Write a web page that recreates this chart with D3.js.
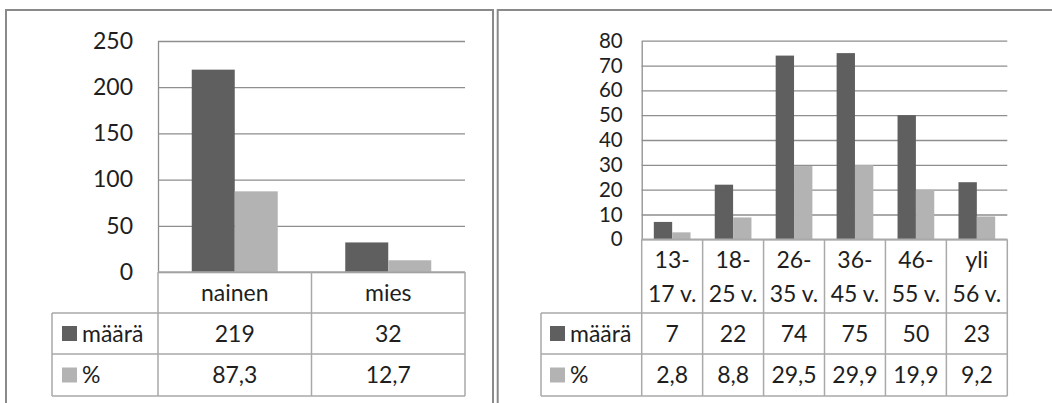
<!DOCTYPE html>
<html>
<head>
<meta charset="utf-8">
<script src="https://cdn.jsdelivr.net/npm/d3@7"></script>
<style>
  html, body { margin: 0; padding: 0; background: #fff; }
  svg { display: block; }
  text { font-family: Lato, "Open Sans", sans-serif; fill: #1e1e1e; }
</style>
</head>
<body>
<svg id="chart" width="1052" height="403"></svg>
<script>
// Series shown in both charts
const seriesNames = ["määrä", "%"];
const seriesColors = ["#5f5f5f", "#b3b3b3"];

// Gender breakdown
const genderCategories = [["nainen"], ["mies"]];
const genderCount = [219, 32];
const genderPercent = [87.3, 12.7];
const genderTicks = [0, 50, 100, 150, 200, 250];

// Age breakdown
const ageCategories = [["13-", "17 v."], ["18-", "25 v."], ["26-", "35 v."], ["36-", "45 v."], ["46-", "55 v."], ["yli", "56 v."]];
const ageCount = [7, 22, 74, 75, 50, 23];
const agePercent = [2.8, 8.8, 29.5, 29.9, 19.9, 9.2];
const ageTicks = [0, 10, 20, 30, 40, 50, 60, 70, 80];

const fi = d3.formatLocale({ decimal: ",", thousands: " ", grouping: [3], currency: ["", " €"] });
const seriesFormats = [fi.format("d"), fi.format(".1f")];

const svg = d3.select("#chart");
const FONT = 23;
const gridColor = "#8e8e8e";
const tableColor = "#a9a9a9";

function drawPanel(cfg) {
  const g = svg.append("g");
  const cats = cfg.categories.map(c => c.join(" "));
  const values = [cfg.count, cfg.percent];

  // outer frame
  g.append("rect")
    .attr("x", cfg.frame[0]).attr("y", 10)
    .attr("width", cfg.frame[1] - cfg.frame[0]).attr("height", 420)
    .attr("fill", "none").attr("stroke", "#8a8a8a").attr("stroke-width", 2);

  const x = d3.scaleBand().domain(cats).range([cfg.plotLeft, cfg.plotRight]).paddingInner(0).paddingOuter(0);
  const xs = d3.scaleBand().domain(seriesNames).range([0, x.bandwidth()]).paddingInner(0).paddingOuter(cfg.groupPad);
  const y = d3.scaleLinear().domain([0, cfg.ticks[cfg.ticks.length - 1]]).range([cfg.zeroY, cfg.topY]);

  // value axis with gridlines
  const axis = d3.axisLeft(y).tickValues(cfg.ticks)
    .tickSizeInner(-(cfg.plotRight - cfg.plotLeft)).tickSizeOuter(0)
    .tickPadding(cfg.tickPad).tickFormat(d3.format("d"));
  const ag = g.append("g").attr("transform", `translate(${cfg.plotLeft},0)`).call(axis);
  ag.select(".domain").attr("stroke", gridColor).attr("stroke-width", 1.3);
  ag.selectAll(".tick line").attr("stroke", gridColor).attr("stroke-width", 1.3);
  ag.selectAll(".tick text").attr("font-size", cfg.tickFont).attr("fill", "#1e1e1e")
    .attr("font-family", "Lato, Open Sans, sans-serif");

  // bars
  seriesNames.forEach((s, si) => {
    g.append("g").selectAll("rect").data(cats).join("rect")
      .attr("x", c => x(c) + xs(s))
      .attr("width", xs.bandwidth())
      .attr("y", (c, i) => y(values[si][i]))
      .attr("height", (c, i) => y(0) - y(values[si][i]))
      .attr("fill", seriesColors[si]);
  });

  // data table beneath the plot
  const t = g.append("g").attr("stroke", tableColor).attr("stroke-width", 1.5).attr("fill", "none");
  const rowTop = cfg.zeroY, rowsY = cfg.rows;
  const bounds = cats.map(c => x(c)).concat([cfg.plotRight]);
  t.append("line").attr("x1", cfg.plotLeft).attr("x2", cfg.plotRight).attr("y1", rowTop).attr("y2", rowTop);
  rowsY.forEach(ry => t.append("line").attr("x1", cfg.tableLeft).attr("x2", cfg.plotRight).attr("y1", ry).attr("y2", ry));
  bounds.forEach(bx => t.append("line").attr("x1", bx).attr("x2", bx).attr("y1", rowTop).attr("y2", rowsY[rowsY.length - 1]));
  t.append("line").attr("x1", cfg.tableLeft).attr("x2", cfg.tableLeft).attr("y1", rowsY[0]).attr("y2", rowsY[rowsY.length - 1]);

  // category labels
  cfg.categories.forEach((lines, i) => {
    const cx = x(cats[i]) + x.bandwidth() / 2;
    lines.forEach((ln, li) => {
      g.append("text").attr("x", cx).attr("y", cfg.catBaselines[li])
        .attr("text-anchor", "middle").attr("font-size", FONT).text(ln);
    });
  });

  // series rows: legend key + values
  seriesNames.forEach((s, si) => {
    const cy = (rowsY[si] + rowsY[si + 1]) / 2;
    g.append("rect").attr("x", cfg.tableLeft + cfg.keyOffset).attr("y", cy - 7.5)
      .attr("width", 15).attr("height", 15).attr("fill", seriesColors[si]);
    g.append("text").attr("x", cfg.tableLeft + cfg.keyOffset + 20).attr("y", cy)
      .attr("dy", "0.36em").attr("font-size", FONT).text(s);
    cats.forEach((c, i) => {
      g.append("text").attr("x", x(c) + x.bandwidth() / 2).attr("y", cy)
        .attr("dy", "0.36em").attr("text-anchor", "middle").attr("font-size", FONT)
        .text(seriesFormats[si](values[si][i]));
    });
  });
}

drawPanel({
  categories: genderCategories, count: genderCount, percent: genderPercent, ticks: genderTicks,
  frame: [6, 493], plotLeft: 158, plotRight: 465, topY: 41, zeroY: 272,
  groupPad: 0.785, tickPad: 25, tickFont: FONT, tableLeft: 52, keyOffset: 10,
  rows: [313, 354, 396], catBaselines: [301]
});

drawPanel({
  categories: ageCategories, count: ageCount, percent: agePercent, ticks: ageTicks,
  frame: [497.7, 1070], plotLeft: 641.7, plotRight: 1007.3, topY: 40.7, zeroY: 239.3,
  groupPad: 0.66, tickPad: 19, tickFont: 20.5, tableLeft: 541, keyOffset: 9,
  rows: [313, 354, 396], catBaselines: [268, 302]
});
</script>
</body>
</html>
